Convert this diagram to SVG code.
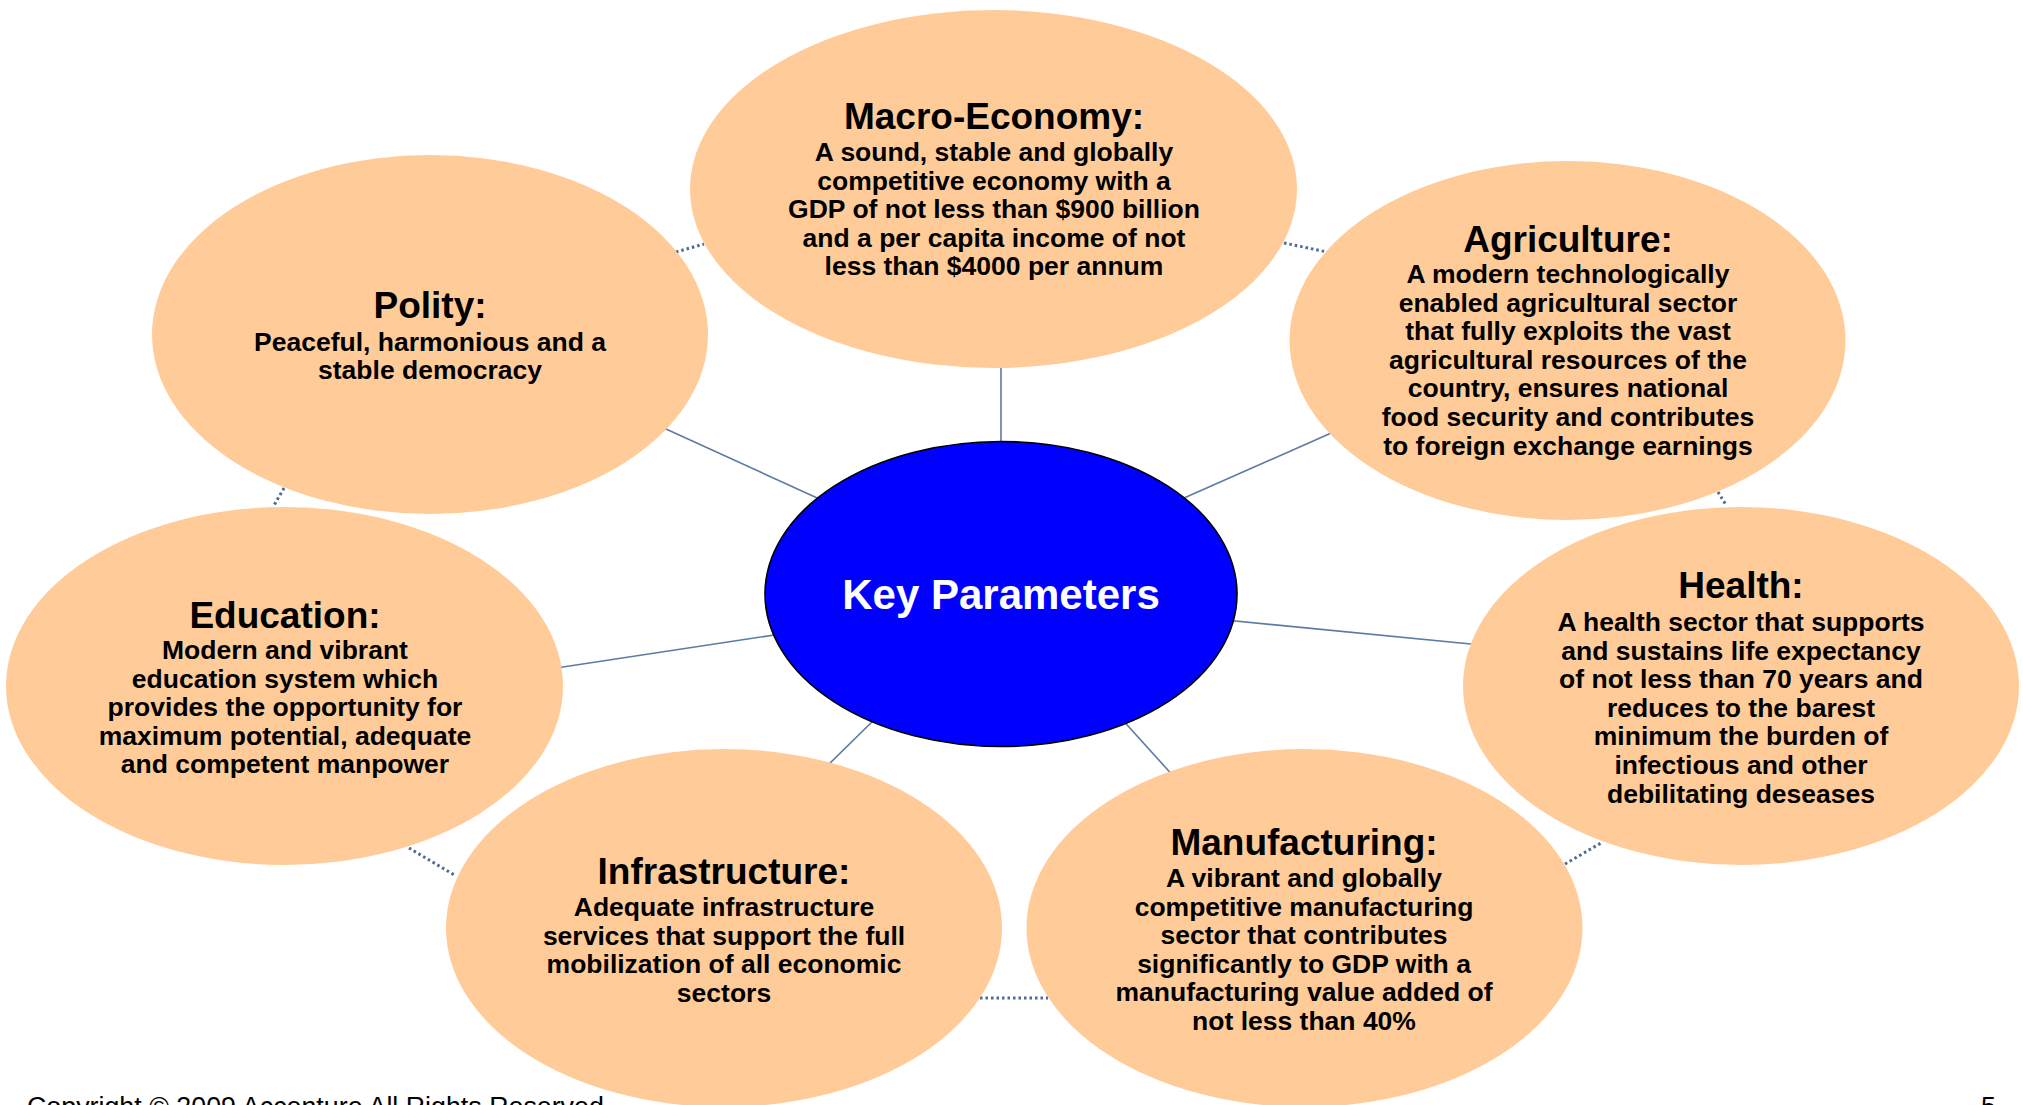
<svg xmlns="http://www.w3.org/2000/svg" width="2023" height="1105" viewBox="0 0 2023 1105">
<style>
.node{fill:#FFCC99;stroke:none}
.t{font-family:"Liberation Sans",Arial,Helvetica,sans-serif;font-weight:bold;fill:#000;text-anchor:middle}
.h{font-size:37px}
.b{font-size:26.5px}
.solid{stroke:#5B7BA1;stroke-width:1.6;fill:none}
.dot{stroke:#4A6A94;stroke-width:3;fill:none;stroke-dasharray:2.5 3}
.foot{font-family:"Liberation Sans",Arial,sans-serif;font-size:26.8px;fill:#000}
</style>
<rect width="2023" height="1105" fill="#fff"/>
<g id="connectors">
<line class="solid" x1="1001" y1="360" x2="1001" y2="450"/>
<line class="solid" x1="655" y1="424" x2="826" y2="502"/>
<line class="solid" x1="1338" y1="430" x2="1175" y2="502"/>
<line class="solid" x1="553" y1="668.5" x2="784" y2="633.5"/>
<line class="solid" x1="1225" y1="620" x2="1481" y2="645"/>
<line class="solid" x1="823" y1="770" x2="878" y2="716"/>
<line class="solid" x1="1119" y1="716" x2="1176" y2="779"/>
<line class="dot" x1="676" y1="252" x2="704" y2="244"/>
<line class="dot" x1="1284" y1="243" x2="1327" y2="252"/>
<line class="dot" x1="284" y1="488" x2="273" y2="507"/>
<line class="dot" x1="409" y1="848" x2="456" y2="876"/>
<line class="dot" x1="980" y1="998" x2="1048" y2="998"/>
<line class="dot" x1="1565" y1="864" x2="1601" y2="843"/>
<line class="dot" x1="1718" y1="492" x2="1726" y2="505"/>
</g>
<g id="macro-economy">
<ellipse class="node" cx="993.5" cy="189" rx="303.5" ry="179"/>
<text class="t h" x="994" y="129">Macro-Economy:</text>
<text class="t b" x="994" y="161">A sound, stable and globally</text>
<text class="t b" x="994" y="189.5">competitive economy with a</text>
<text class="t b" x="994" y="218">GDP of not less than $900 billion</text>
<text class="t b" x="994" y="246.5">and a per capita income of not</text>
<text class="t b" x="994" y="275">less than $4000 per annum</text>
</g>
<g id="polity">
<ellipse class="node" cx="430" cy="334.5" rx="278" ry="179.5"/>
<text class="t h" x="430" y="318">Polity:</text>
<text class="t b" x="430" y="351">Peaceful, harmonious and a</text>
<text class="t b" x="430" y="379">stable democracy</text>
</g>
<g id="agriculture">
<ellipse class="node" cx="1567.5" cy="340.5" rx="278" ry="179.5"/>
<text class="t h" x="1568" y="252">Agriculture:</text>
<text class="t b" x="1568" y="283">A modern technologically</text>
<text class="t b" x="1568" y="311.6">enabled agricultural sector</text>
<text class="t b" x="1568" y="340.2">that fully exploits the vast</text>
<text class="t b" x="1568" y="368.8">agricultural resources of the</text>
<text class="t b" x="1568" y="397.4">country, ensures national</text>
<text class="t b" x="1568" y="426">food security and contributes</text>
<text class="t b" x="1568" y="454.6">to foreign exchange earnings</text>
</g>
<g id="education">
<ellipse class="node" cx="284.5" cy="686" rx="278.5" ry="179"/>
<text class="t h" x="285" y="628">Education:</text>
<text class="t b" x="285" y="659">Modern and vibrant</text>
<text class="t b" x="285" y="687.6">education system which</text>
<text class="t b" x="285" y="716.2">provides the opportunity for</text>
<text class="t b" x="285" y="744.8">maximum potential, adequate</text>
<text class="t b" x="285" y="773.4">and competent manpower</text>
</g>
<g id="health">
<ellipse class="node" cx="1741" cy="686" rx="278" ry="179"/>
<text class="t h" x="1741" y="598">Health:</text>
<text class="t b" x="1741" y="631">A health sector that supports</text>
<text class="t b" x="1741" y="659.6">and sustains life expectancy</text>
<text class="t b" x="1741" y="688.2">of not less than 70 years and</text>
<text class="t b" x="1741" y="716.8">reduces to the barest</text>
<text class="t b" x="1741" y="745.4">minimum the burden of</text>
<text class="t b" x="1741" y="774">infectious and other</text>
<text class="t b" x="1741" y="802.6">debilitating deseases</text>
</g>
<g id="infrastructure">
<ellipse class="node" cx="724" cy="928" rx="278" ry="179"/>
<text class="t h" x="724" y="884">Infrastructure:</text>
<text class="t b" x="724" y="916">Adequate infrastructure</text>
<text class="t b" x="724" y="944.6">services that support the full</text>
<text class="t b" x="724" y="973.2">mobilization of all economic</text>
<text class="t b" x="724" y="1001.8">sectors</text>
</g>
<g id="manufacturing">
<ellipse class="node" cx="1304.5" cy="928" rx="278" ry="179"/>
<text class="t h" x="1304" y="855">Manufacturing:</text>
<text class="t b" x="1304" y="887">A vibrant and globally</text>
<text class="t b" x="1304" y="915.6">competitive manufacturing</text>
<text class="t b" x="1304" y="944.2">sector that contributes</text>
<text class="t b" x="1304" y="972.8">significantly to GDP with a</text>
<text class="t b" x="1304" y="1001.4">manufacturing value added of</text>
<text class="t b" x="1304" y="1030">not less than 40%</text>
</g>
<g id="key-parameters">
<ellipse cx="1001" cy="594" rx="236" ry="152.5" fill="#0000FF" stroke="#000" stroke-width="1.6"/>
<text class="t" x="1001" y="609" font-size="42" style="fill:#fff">Key Parameters</text>
</g>
<text class="foot" x="27" y="1116">Copyright © 2009 Accenture All Rights Reserved.</text>
<text class="foot" x="1981" y="1116">5</text>
</svg>
